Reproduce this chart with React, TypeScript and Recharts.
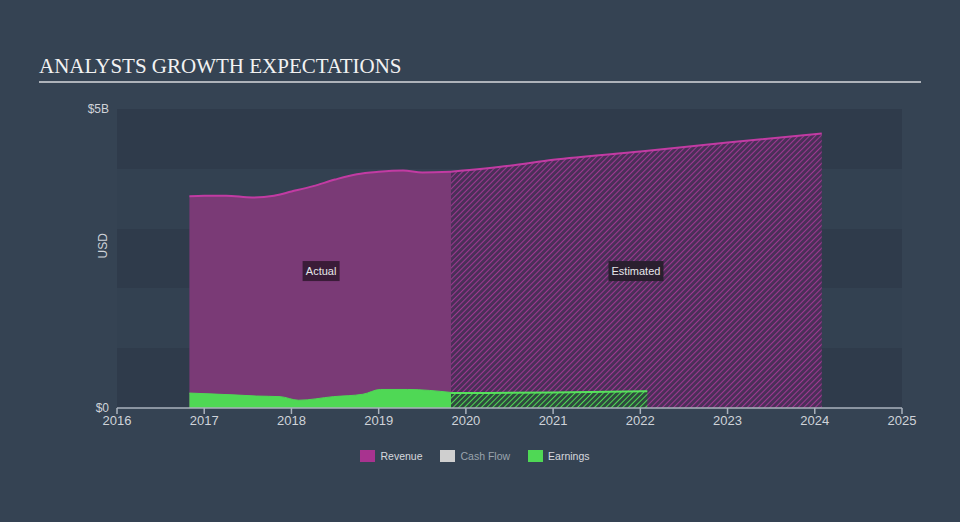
import {
  ComposedChart,
  Area,
  XAxis,
  YAxis,
  CartesianGrid,
  ReferenceDot,
} from "recharts";

// values in $B, x in fractional years
const revenueActual: [number, number][] = [
  [2016.83, 3.54],
  [2017.0, 3.55],
  [2017.25, 3.55],
  [2017.55, 3.52],
  [2017.8, 3.55],
  [2018.0, 3.62],
  [2018.25, 3.71],
  [2018.5, 3.82],
  [2018.75, 3.91],
  [2019.0, 3.95],
  [2019.28, 3.97],
  [2019.5, 3.94],
  [2019.83, 3.95],
];

const revenueEstimate: [number, number][] = [
  [2019.83, 3.95],
  [2020.5, 4.05],
  [2021.0, 4.15],
  [2022.0, 4.29],
  [2023.0, 4.44],
  [2024.08, 4.59],
];

const earningsActual: [number, number][] = [
  [2016.83, 0.25],
  [2017.33, 0.22],
  [2017.6, 0.2],
  [2017.87, 0.19],
  [2018.08, 0.13],
  [2018.48, 0.19],
  [2018.82, 0.23],
  [2019.02, 0.31],
  [2019.33, 0.31],
  [2019.83, 0.26],
];

const earningsEstimate: [number, number][] = [
  [2019.83, 0.25],
  [2021.0, 0.26],
  [2022.08, 0.28],
];

const yearTicks = [2016, 2017, 2018, 2019, 2020, 2021, 2022, 2023, 2024, 2025];
const valueTicks = [0, 1, 2, 3, 4, 5];

const legendItems = [
  { name: "Revenue", color: "#a8338f", text: "#d6d9de" },
  { name: "Cash Flow", color: "#cfcfcf", text: "#9aa3ad" },
  { name: "Earnings", color: "#4fd855", text: "#d6d9de" },
];

type Row = {
  x: number;
  revA?: number;
  revE?: number;
  earnA?: number;
  earnE?: number;
};

function buildRows(): Row[] {
  const map = new Map<number, Row>();
  const put = (list: [number, number][], key: keyof Row) => {
    list.forEach(([x, v]) => {
      const r = map.get(x) ?? { x };
      (r as any)[key] = v;
      map.set(x, r);
    });
  };
  put(revenueActual, "revA");
  put(revenueEstimate, "revE");
  put(earningsActual, "earnA");
  put(earningsEstimate, "earnE");
  return [...map.values()].sort((a, b) => a.x - b.x);
}

const rows = buildRows();

const font = "'Liberation Sans', Arial, sans-serif";

function TagLabel(props: any) {
  const { viewBox, value, w, bg } = props;
  const cx = viewBox.x + (viewBox.width ?? 0) / 2;
  const cy = viewBox.y + (viewBox.height ?? 0) / 2;
  return (
    <g>
      <rect x={cx - w / 2} y={cy - 10} width={w} height={20} fill={bg} />
      <text
        x={cx}
        y={cy + 4}
        textAnchor="middle"
        fill="#e6e6ea"
        fontSize={11}
        fontFamily={font}
      >
        {value}
      </text>
    </g>
  );
}

export default function App() {
  return (
    <div
      style={{
        position: "fixed",
        left: 0,
        top: 0,
        width: 960,
        height: 522,
        background: "#354353",
        overflow: "hidden",
      }}
    >
      <div
        style={{
          position: "absolute",
          left: 39,
          top: 54,
          fontFamily: "'Liberation Serif', 'Times New Roman', serif",
          fontSize: 21,
          color: "#f2f2f2",
          lineHeight: "24px",
          whiteSpace: "nowrap",
        }}
      >
        ANALYSTS GROWTH EXPECTATIONS
      </div>
      <div
        style={{
          position: "absolute",
          left: 39,
          top: 81,
          width: 882,
          height: 2,
          background: "#aeb3ba",
        }}
      />
      <div style={{ position: "absolute", left: 0, top: 0 }}>
        <ComposedChart
          width={960}
          height={522}
          data={rows}
          margin={{ top: 109, right: 58, bottom: 84, left: 57 }}
        >
          <defs>
            <pattern
              id="revHatch"
              width={4}
              height={4}
              patternUnits="userSpaceOnUse"
              patternTransform="rotate(45)"
            >
              <rect width={4} height={4} fill="#4a2f58" />
              <line x1={0} y1={0} x2={0} y2={4} stroke="#9e3891" strokeWidth={2.1} />
            </pattern>
            <pattern
              id="earnHatch"
              width={4}
              height={4}
              patternUnits="userSpaceOnUse"
              patternTransform="rotate(45)"
            >
              <rect width={4} height={4} fill="#2f4a3e" />
              <line x1={0} y1={0} x2={0} y2={4} stroke="#4fd855" strokeWidth={2} />
            </pattern>
          </defs>
          <CartesianGrid
            vertical={false}
            stroke="none"
            horizontalFill={["#2f3b4b", "#334151"]}
          />
          <XAxis
            type="number"
            dataKey="x"
            domain={[2016, 2025]}
            ticks={yearTicks}
            allowDataOverflow
            stroke="#aab2bd"
            strokeWidth={1.5}
            tickSize={6}
            tick={{ fill: "#cfd3d9", fontSize: 13, fontFamily: font }}
            tickMargin={2}
          />
          <YAxis
            type="number"
            domain={[0, 5]}
            ticks={valueTicks}
            width={60}
            axisLine={false}
            tickLine={false}
            tick={{ fill: "#cfd3d9", fontSize: 12, fontFamily: font }}
            tickFormatter={(v: number) => (v === 0 ? "$0" : v === 5 ? "$5B" : "")}
            label={{
              value: "USD",
              angle: -90,
              position: "insideLeft",
              offset: 46,
              fill: "#cfd3d9",
              fontSize: 12,
              fontFamily: font,
            }}
          />
          <Area
            dataKey="revA"
            type="monotone"
            stroke="#c23ba3"
            strokeWidth={2}
            fill="#7a3a76"
            fillOpacity={1}
            connectNulls
            isAnimationActive={false}
          />
          <Area
            dataKey="revE"
            type="monotone"
            stroke="#c23ba3"
            strokeWidth={2}
            fill="url(#revHatch)"
            fillOpacity={1}
            connectNulls
            isAnimationActive={false}
          />
          <Area
            dataKey="earnA"
            type="monotone"
            stroke="#4fd855"
            strokeWidth={1}
            fill="#4fd855"
            fillOpacity={1}
            connectNulls
            isAnimationActive={false}
          />
          <Area
            dataKey="earnE"
            type="monotone"
            stroke="#57e25c"
            strokeWidth={2}
            fill="url(#earnHatch)"
            fillOpacity={1}
            connectNulls
            isAnimationActive={false}
          />
          <ReferenceDot
            x={2018.34}
            y={2.29}
            r={0}
            fill="none"
            stroke="none"
            label={<TagLabel value="Actual" w={37} bg="#3a1c38" />}
          />
          <ReferenceDot
            x={2021.95}
            y={2.29}
            r={0}
            fill="none"
            stroke="none"
            label={<TagLabel value="Estimated" w={55} bg="#2a1f2f" />}
          />
        </ComposedChart>
      </div>
      <div
        style={{
          position: "absolute",
          left: 0,
          top: 449,
          width: 960,
          display: "flex",
          justifyContent: "center",
          gap: 18,
          fontFamily: font,
          fontSize: 10.5,
          paddingRight: 10,
          boxSizing: "border-box",
        }}
      >
        {legendItems.map((it) => (
          <div key={it.name} style={{ display: "flex", alignItems: "center" }}>
            <span
              style={{
                display: "inline-block",
                width: 15,
                height: 12,
                background: it.color,
                marginRight: 5,
              }}
            />
            <span style={{ color: it.text, lineHeight: "14px" }}>{it.name}</span>
          </div>
        ))}
      </div>
    </div>
  );
}
